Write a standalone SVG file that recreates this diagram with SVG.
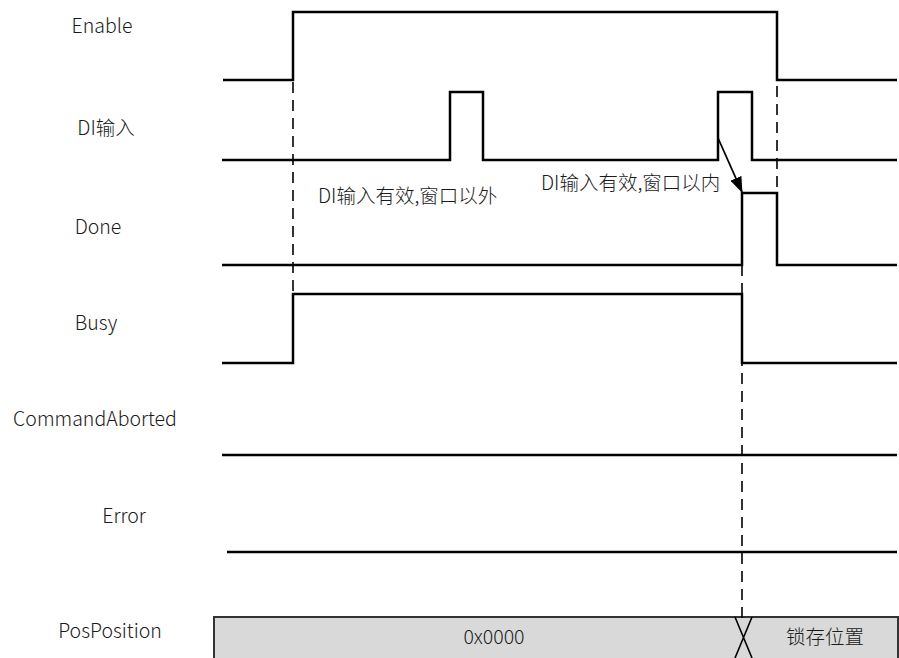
<svg xmlns="http://www.w3.org/2000/svg" width="899" height="658" viewBox="0 0 899 658">
<style>
.sig{fill:none;stroke:#000;stroke-width:2.5}
.dash{fill:none;stroke:#000;stroke-width:1.6;stroke-dasharray:11,7}
text{font-family:"Noto Sans CJK SC","Noto Sans",sans-serif;font-size:19.5px;font-weight:300;fill:#1a1a1a}
.lbl{text-anchor:middle}
</style>
<defs>
<marker id="ah" viewBox="0 0 16 12" refX="15" refY="6" markerWidth="16" markerHeight="12" orient="auto" markerUnits="userSpaceOnUse">
<path d="M0,0 L16,6 L0,12 z" fill="#000"/>
</marker>
</defs>
<rect width="899" height="658" fill="#fff"/>
<g id="labels">
<text class="lbl" x="102" y="33">Enable</text>
<text class="lbl" x="106" y="135">DI输入</text>
<text class="lbl" x="98" y="234">Done</text>
<text class="lbl" x="96" y="330">Busy</text>
<text class="lbl" x="95" y="426">CommandAborted</text>
<text class="lbl" x="124" y="523">Error</text>
<text class="lbl" x="110" y="638">PosPosition</text>
</g>
<g id="enable"><path class="sig" d="M223,80 H293 V12 H777 V80 H897"/></g>
<g id="di"><path class="sig" d="M222,160 H450 V92 H483 V160 H718 V92 H752 V160 H897"/></g>
<g id="done"><path class="sig" d="M222,265 H742 V193 H777 V265 H897"/></g>
<g id="busy"><path class="sig" d="M222,363 H293 V294 H742 V363 H897"/></g>
<g id="commandaborted"><path class="sig" d="M222,455 H897"/></g>
<g id="error"><path class="sig" d="M227,552 H897"/></g>
<g id="posposition">
<rect x="214" y="617" width="684" height="45" fill="#d9d9d9" stroke="#333" stroke-width="2"/>
<path d="M735,617 L752,658 M752,617 L735,658" stroke="#000" stroke-width="1.6" fill="none"/>
<text class="lbl" x="494" y="644">0x0000</text>
<text class="lbl" x="825" y="644">锁存位置</text>
</g>
<g id="connectors">
<path class="dash" d="M293,82 V365"/>
<path class="dash" d="M777,14 V193"/>
<path class="dash" d="M742,265 V622"/>
<path d="M718,138 L742,192" stroke="#000" stroke-width="1.8" fill="none" marker-end="url(#ah)"/>
</g>
<g id="notes">
<text x="318" y="203">DI输入有效,窗口以外</text>
<text x="541" y="190">DI输入有效,窗口以内</text>
</g>
</svg>
